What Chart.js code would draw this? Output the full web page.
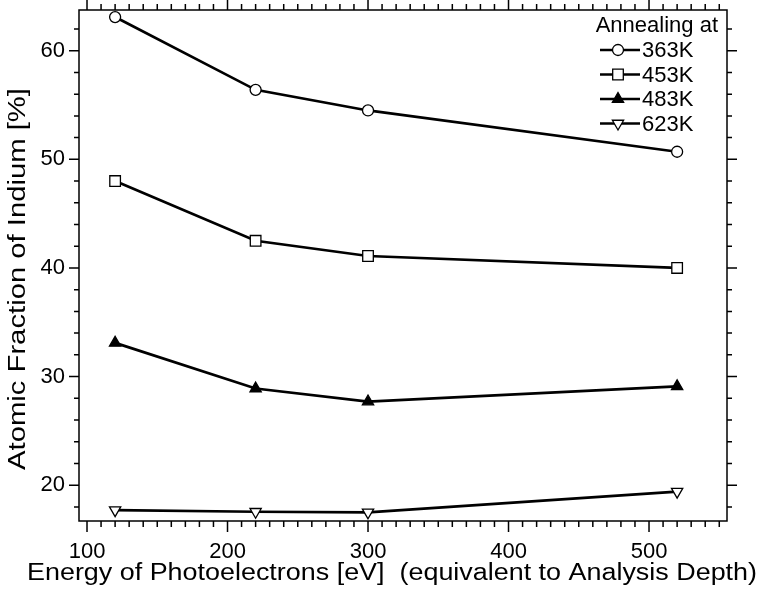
<!DOCTYPE html>
<html>
<head>
<meta charset="utf-8">
<script src="https://cdn.jsdelivr.net/npm/chart.js@4/dist/chart.umd.min.js"></script>
<style>
  html, body { margin: 0; padding: 0; background: #fff; }
  #wrap { width: 760px; height: 597px; }
</style>
</head>
<body>
<div id="wrap"><canvas id="myChart"></canvas></div>
<script>
// values
const energies = [120, 220, 300, 520];
const k363 = [63.1, 56.4, 54.5, 50.7];
const k453 = [48.0, 42.5, 41.1, 40.0];
const k483 = [33.1, 28.9, 27.7, 29.1];
const k623 = [17.7, 17.55, 17.5, 19.4];
const seriesLabels = ['363K', '453K', '483K', '623K'];
const xTicks = [100, 200, 300, 400, 500];
const yTicks = [20, 30, 40, 50, 60];

const xTitle = 'Energy of Photoelectrons [eV]  (equivalent to Analysis Depth)';
const yTitle = 'Atomic Fraction of Indium [%]';
const legendTitle = 'Annealing at';

const FONT = "'Liberation Sans', Arial, sans-serif";

function pts(vals) {
    return energies.map((e, i) => ({ x: e, y: vals[i] }));
}

const styles = [
    { pointStyle: 'circle', radius: 5.5, rotation: 0, fill: '#fff' },
    { pointStyle: 'rect', radius: 7.5, rotation: 0, fill: '#fff' },
    { pointStyle: 'triangle', radius: 6.5, rotation: 0, fill: '#000' },
    { pointStyle: 'triangle', radius: 6.5, rotation: 180, fill: '#fff' }
];

const datasets = [k363, k453, k483, k623].map((vals, i) => ({
    label: seriesLabels[i],
    data: pts(vals),
    borderColor: '#000',
    borderWidth: 2.7,
    pointStyle: styles[i].pointStyle,
    pointRadius: styles[i].radius,
    pointRotation: styles[i].rotation,
    pointBackgroundColor: styles[i].fill,
    pointBorderColor: '#000',
    pointBorderWidth: 1.3,
    tension: 0
}));

// draw text stretched to a given length (the original titles are wide)
function stretchedText(ctx, text, cx, cy, len, rot) {
    ctx.save();
    ctx.translate(cx, cy);
    ctx.rotate(rot);
    const w = ctx.measureText(text).width;
    ctx.scale(len / w, 1);
    ctx.fillText(text, 0, 0);
    ctx.restore();
}

// frame, minor/major ticks on all four sides, titles and the legend box
const decor = {
    id: 'decor',
    afterDraw(chart) {
        const ctx = chart.ctx;
        const a = chart.chartArea;
        const xs = chart.scales.x, ys = chart.scales.y;
        ctx.save();
        ctx.strokeStyle = '#000';
        ctx.lineWidth = 1.5;
        ctx.strokeRect(a.left, a.top, a.right - a.left, a.bottom - a.top);

        ctx.beginPath();
        for (let v = 18; v <= 62; v += 2) {
            const p = ys.getPixelForValue(v);
            const len = v % 10 === 0 ? 10 : 5;
            ctx.moveTo(a.left - len, p); ctx.lineTo(a.left, p);
            ctx.moveTo(a.right, p); ctx.lineTo(a.right + len, p);
        }
        for (let v = 100; v <= 550; v += 10) {
            const p = xs.getPixelForValue(v);
            const len = v % 100 === 0 ? 11 : 6;
            ctx.moveTo(p, a.bottom); ctx.lineTo(p, a.bottom + len);
            ctx.moveTo(p, a.top); ctx.lineTo(p, a.top - len);
        }
        ctx.stroke();

        // axis titles
        ctx.fillStyle = '#000';
        ctx.font = '23px ' + FONT;
        ctx.textAlign = 'center';
        ctx.textBaseline = 'alphabetic';
        stretchedText(ctx, xTitle, 392, 580, 730, 0);
        ctx.textBaseline = 'middle';
        stretchedText(ctx, yTitle, 19, 279, 382, -Math.PI / 2);

        // legend
        ctx.font = '22px ' + FONT;
        ctx.textAlign = 'right';
        ctx.textBaseline = 'alphabetic';
        ctx.fillText(legendTitle, 718, 32);
        ctx.textAlign = 'left';
        ctx.textBaseline = 'middle';
        chart.data.datasets.forEach((ds, i) => {
            const y = 50 + i * 24.5;
            ctx.lineWidth = 2.7;
            ctx.strokeStyle = '#000';
            ctx.beginPath();
            ctx.moveTo(600, y); ctx.lineTo(640, y);
            ctx.stroke();
            ctx.fillStyle = styles[i].fill;
            ctx.lineWidth = 1.3;
            Chart.helpers.drawPoint(ctx, {
                pointStyle: styles[i].pointStyle,
                radius: styles[i].radius,
                rotation: styles[i].rotation,
                borderWidth: 1.3
            }, 618, y);
            ctx.fillStyle = '#000';
            ctx.fillText(ds.label, 642, y + 1);
        });
        ctx.restore();
    }
};

const ctx = document.getElementById('myChart').getContext('2d');
const myChart = new Chart(ctx, {
    type: 'line',
    data: { datasets: datasets },
    options: {
        responsive: true,
        maintainAspectRatio: false,
        animation: false,
        layout: { padding: { top: 10, right: 33, left: 0, bottom: 0 } },
        plugins: {
            legend: { display: false },
            tooltip: { enabled: false }
        },
        scales: {
            x: {
                type: 'linear',
                min: 94.3,
                max: 555.5,
                afterFit(s) {
                    s.height = 76;
                    s.paddingLeft = 0; s.paddingRight = 0;
                },
                afterBuildTicks(s) { s.ticks = xTicks.map(v => ({ value: v })); },
                grid: { display: false },
                border: { display: false },
                ticks: {
                    color: '#000',
                    padding: 10,
                    maxRotation: 0,
                    font: { family: FONT, size: 22 }
                }
            },
            y: {
                type: 'linear',
                min: 16.7,
                max: 63.75,
                afterFit(s) {
                    s.width = 79;
                    s.paddingTop = 0; s.paddingBottom = 0;
                },
                afterBuildTicks(s) { s.ticks = yTicks.map(v => ({ value: v })); },
                grid: { display: false },
                border: { display: false },
                ticks: {
                    color: '#000',
                    padding: 6,
                    font: { family: FONT, size: 22 }
                }
            }
        }
    },
    plugins: [decor]
});
</script>
</body>
</html>
